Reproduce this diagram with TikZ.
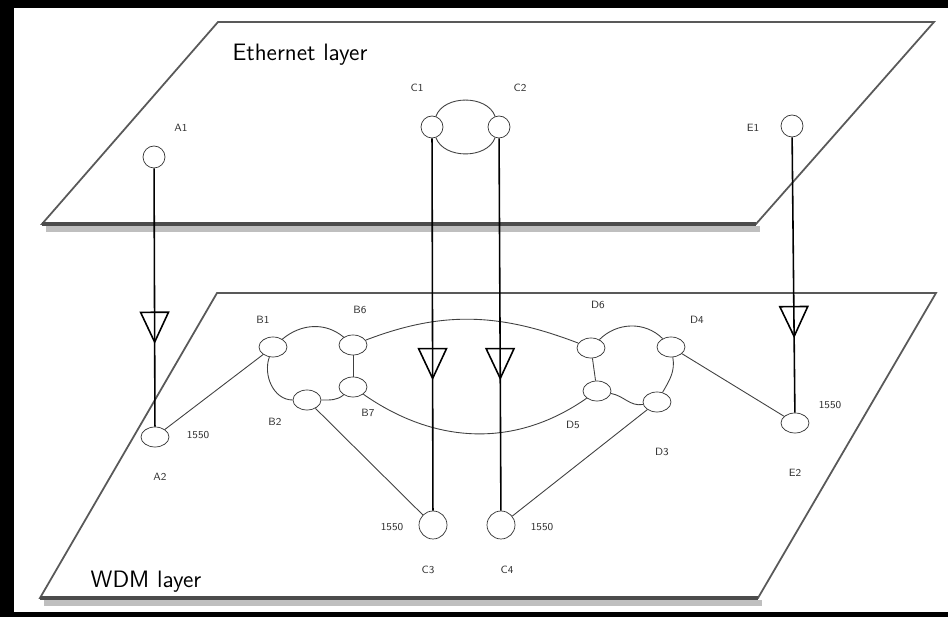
\documentclass[tikz,border=0pt]{standalone}
\usepackage{tikz}
\usetikzlibrary{arrows.meta,decorations.markings,shapes.geometric}
\tikzset{
  lbl/.style={font=\sffamily\fontsize{6}{7}\selectfont, text=black!80},
  layer/.style={font=\sffamily\fontsize{13.5}{15}\selectfont},
  plane/.style={draw=black!65, line width=1pt, fill=white},
  edge/.style={draw=black!70, line width=1.8pt},
  shade/.style={draw=black!25, line width=3pt},
  eth/.style={draw=black!80, circle, minimum size=0.44cm, inner sep=0pt, fill=white},
  wdm/.style={draw=black!80, ellipse, minimum width=0.56cm, minimum height=0.4cm, inner sep=0pt, fill=white},
  lnk/.style={draw=black!75, line width=0.5pt},
  map/.style={line width=0.9pt, postaction={decorate},
    decoration={markings, mark=at position #1 with {\arrow{Triangle[open,length=6.5mm,width=6mm]}}}}
}
\begin{document}
\begin{tikzpicture}[x=0.02cm, y=-0.02cm]
    \useasboundingbox (0,0) rectangle (948,617);
    \fill[black] (0,0) rectangle (948,617);
    \fill[white] (14,8) rectangle (948,612);

    \draw[shade] (46,229)--(760,229);
    \draw[plane] (218,22)--(934,22)--(756,224)--(42,224)--cycle;
    \draw[edge] (42,224)--(756,224);
    \node[layer] (ethtxt) at (300,55) {Ethernet layer};

    \draw[shade] (44,603)--(762,603);
    \draw[plane] (217,293)--(936,293)--(758,598)--(40,598)--cycle;
    \draw[edge] (40,598)--(758,598);
    \node[layer] (wdmtxt) at (146,582) {WDM layer};

    \node[eth] (A1) at (154,157) {};
    \node[eth] (C1) at (432,127) {};
    \node[eth] (C2) at (499,127) {};
    \node[eth] (E1) at (792,126) {};
    \node[lbl] (lA1) at (181,128) {A1};
    \node[lbl] (lC1) at (417,88) {C1};
    \node[lbl] (lC2) at (520,88) {C2};
    \node[lbl] (lE1) at (753,128) {E1};
    \draw[lnk] (C1) to[out=70,in=110] (C2);
    \draw[lnk] (C1) to[out=-70,in=-110] (C2);

    \node[wdm] (A2) at (155,437) {};
    \node[wdm] (B1) at (273,347) {};
    \node[wdm] (B6) at (353,345) {};
    \node[wdm] (B7) at (353,387) {};
    \node[wdm] (B2) at (307,400) {};
    \node[wdm] (D6) at (591,348) {};
    \node[wdm] (D4) at (671,347) {};
    \node[wdm] (D5) at (597,391) {};
    \node[wdm] (D3) at (657,402) {};
    \node[wdm] (E2) at (795,423) {};
    \node[eth, minimum size=0.56cm] (C3) at (433,525) {};
    \node[eth, minimum size=0.56cm] (C4) at (501,525) {};

    \node[lbl] (lB1) at (263,320) {B1};
    \node[lbl] (lB6) at (360,310) {B6};
    \node[lbl] (lB7) at (368,413) {B7};
    \node[lbl] (lB2) at (275,422) {B2};
    \node[lbl] (lA2) at (160,477) {A2};
    \node[lbl] (wA2) at (198,435) {1550};
    \node[lbl] (lC3) at (428,570) {C3};
    \node[lbl] (wC3) at (392,527) {1550};
    \node[lbl] (lC4) at (507,570) {C4};
    \node[lbl] (wC4) at (542,527) {1550};
    \node[lbl] (lD6) at (598,305) {D6};
    \node[lbl] (lD4) at (697,320) {D4};
    \node[lbl] (lD5) at (573,425) {D5};
    \node[lbl] (lD3) at (662,452) {D3};
    \node[lbl] (lE2) at (795,473) {E2};
    \node[lbl] (wE2) at (830,405) {1550};

    \draw[lnk] (A2)--(B1);
    \draw[lnk] (B1) to[out=40,in=140] (B6);
    \draw[lnk] (B1) to[out=-110,in=180] (B2);
    \draw[lnk] (B2) to[out=0,in=-140] (B7);
    \draw[lnk] (B6)--(B7);
    \draw[lnk] (B6) to[out=21,in=159] (D6);
    \draw[lnk] (B7) to[out=-35,in=-145] (D5);
    \draw[lnk] (B2)--(C3);
    \draw[lnk] (D6) to[out=45,in=135] (D4);
    \draw[lnk] (D6)--(D5);
    \draw[lnk] (D5) to[out=-10,in=190] (D3);
    \draw[lnk] (D4) to[out=-80,in=60] (D3);
    \draw[lnk] (D4)--(E2);
    \draw[lnk] (D3)--(C4);

    \draw[map=0.68] (A1)--(A2);
    \draw[map=0.65] (C1)--(C3);
    \draw[map=0.65] (C2)--(C4);
    \draw[map=0.73] (E1)--(E2);
\end{tikzpicture}
\end{document}
